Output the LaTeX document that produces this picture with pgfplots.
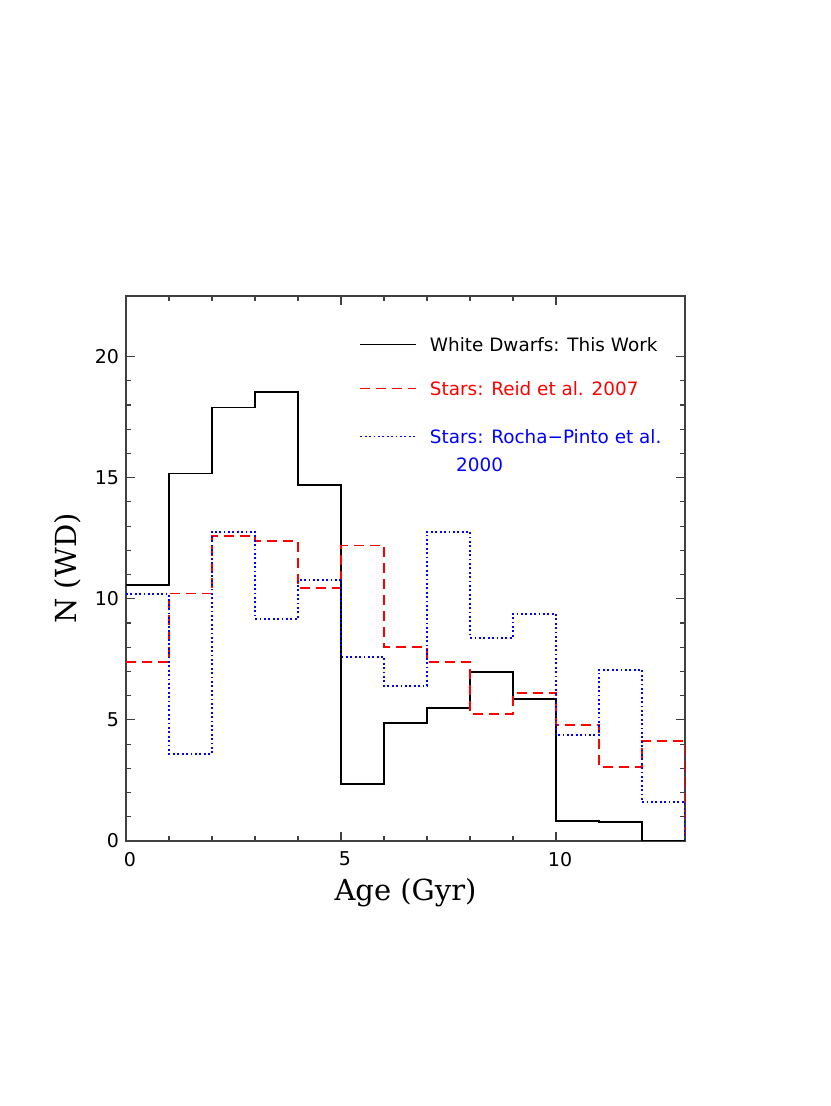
\documentclass[border=0pt]{standalone}
\usepackage{fontspec}
\setmainfont{DejaVu Sans}
\newfontfamily\labelfont{DejaVu Serif}
\usepackage{pgfplots}
\pgfplotsset{compat=1.18}

\begin{document}
\begin{tikzpicture}
  \path[use as bounding box] (-63pt,-132.5pt) rectangle (352pt,420.5pt);
  \begin{axis}[
    at={(0,0)}, anchor=south west,
    scale only axis, width=279.5pt, height=272.5pt,
    xmin=0, xmax=13, ymin=0, ymax=22.5,
    xtick={0,5,10}, ytick={0,5,10,15,20},
    minor x tick num=4, minor y tick num=4,
    tick align=inside,
    major tick length=4.5pt, minor tick length=2.5pt,
    axis line style={black!75, line width=0.6pt},
    every tick/.style={black!75, line width=0.6pt},
    tick label style={font=\fontsize{9.5}{11}\selectfont},
    xticklabel style={xshift=2pt, yshift=-2pt},
    /pgf/number format/assume math mode=true,
    xlabel={Age (Gyr)}, ylabel={N (WD)},
    label style={font=\labelfont\fontsize{14.5}{16}\selectfont},
    xlabel style={at={(axis description cs:0.5,-0.095)}, anchor=center},
    ylabel style={at={(axis description cs:-0.104,0.5)}, anchor=center},
    const plot mark left,
  ]
    % white dwarfs
    \addplot[black, line width=0.9pt] coordinates {
      (0,10.58) (1,15.17) (2,17.9) (3,18.55) (4,14.7) (5,2.36) (6,4.88)
      (7,5.5) (8,6.98) (9,5.87) (10,0.83) (11,0.79) (12,0) (13,0)
    };
    % Reid et al. 2007
    \addplot[red, line width=0.9pt, dash pattern=on 5pt off 3pt] coordinates {
      (0,7.4) (1,10.22) (2,12.6) (3,12.4) (4,10.45) (5,12.2) (6,8.02)
      (7,7.4) (8,5.25) (9,6.1) (10,4.8) (11,3.06) (12,4.13) (13,4.13) (13,0)
    };
    % Rocha-Pinto et al. 2000
    \addplot[blue, line width=0.9pt, dash pattern=on 0.9pt off 1.3pt] coordinates {
      (0,10.2) (1,3.6) (2,12.77) (3,9.17) (4,10.78) (5,7.6) (6,6.4)
      (7,12.77) (8,8.39) (9,9.38) (10,4.38) (11,7.07) (12,1.6) (13,1.6) (13,0)
    };

    % legend
    \draw[black, line width=0.6pt] (axis cs:5.45,20.5) -- (axis cs:6.74,20.5);
    \draw[red, line width=0.6pt, dash pattern=on 5pt off 3pt] (axis cs:5.45,18.68) -- (axis cs:6.74,18.68);
    \draw[blue, line width=0.6pt, dash pattern=on 0.9pt off 1.3pt] (axis cs:5.45,16.69) -- (axis cs:6.74,16.69);
    \node[anchor=west, inner sep=0pt, font=\fontsize{9.2}{10}\selectfont] at (axis cs:7.06,20.5) {White Dwarfs: This Work};
    \node[anchor=west, inner sep=0pt, red, font=\fontsize{9.2}{10}\selectfont] at (axis cs:7.06,18.68) {Stars: Reid et al. 2007};
    \node[anchor=west, inner sep=0pt, blue, font=\fontsize{9.2}{10}\selectfont] at (axis cs:7.06,16.69) {Stars: Rocha{\textminus}Pinto et al.};
    \node[anchor=west, inner sep=0pt, blue, font=\fontsize{9.2}{10}\selectfont] at (axis cs:7.67,15.54) {2000};
  \end{axis}
\end{tikzpicture}
\end{document}
